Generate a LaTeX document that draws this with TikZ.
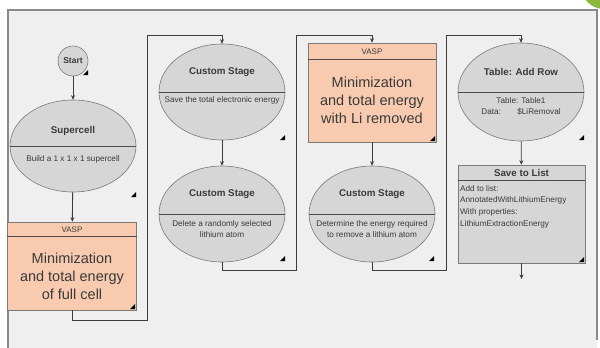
\documentclass[tikz,border=0pt]{standalone}
\usepackage{fontspec}
\setmainfont{Liberation Sans}
\usetikzlibrary{shapes.geometric,arrows.meta}
\definecolor{bgc}{HTML}{EFEFEF}
\definecolor{elc}{HTML}{D6D6D6}
\definecolor{edgec}{HTML}{7A7A7A}
\definecolor{salm}{HTML}{F8CBB0}
\definecolor{connc}{HTML}{3C3C3C}
\definecolor{txt}{HTML}{3A3A3A}
\definecolor{grn}{HTML}{8CB83A}
\definecolor{framec}{HTML}{8A8A8A}
\begin{document}
\begin{tikzpicture}[x=1pt,y=-1pt,
 stage/.style={ellipse,draw=edgec,fill=elc,inner sep=0,minimum width=126pt,minimum height=96pt,line width=0.6pt},
 vbox/.style={rectangle,draw=edgec,fill=salm,inner sep=0,line width=0.6pt},
 gbox/.style={rectangle,draw=edgec,fill=elc,inner sep=0,line width=0.6pt},
 divider/.style={draw=black!70,line width=0.6pt},
 ttl/.style={font=\bfseries\fontsize{9.8}{11}\selectfont,text=txt,inner sep=0},
 desc/.style={font=\fontsize{8.2}{11}\selectfont,text=txt,align=center,inner sep=0},
 ldesc/.style={font=\fontsize{8.2}{11.8}\selectfont,text=txt,align=left,inner sep=0},
 hdr/.style={font=\fontsize{8}{9}\selectfont,text=txt,inner sep=0},
 big/.style={font=\fontsize{14.5}{18}\selectfont,text=txt,align=center,inner sep=0},
 connl/.style={draw=connc,line width=0.9pt},
 arr/.style={connl,-{Stealth[length=4.5pt,width=4pt]}},
 mk/.style={fill=black}
]
\useasboundingbox (0,0) rectangle (600,348);
\fill[white] (0,0) rectangle (600,348);
\fill[bgc] (8,10) rectangle (597,348);
\draw[framec,line width=1.4pt] (8,348) -- (8,10) -- (597,10) -- (597,340);
\begin{scope}
\clip (0,0) rectangle (600,348);
\fill[grn] (604,-14) circle (23);
\end{scope}

% nodes
\node[circle,draw=edgec,fill=elc,inner sep=0,minimum size=30pt,line width=0.6pt] (start) at (73,61) {};
\node[ttl,font=\bfseries\fontsize{8.5}{9}\selectfont] (startt) at (73,61) {Start};

\node[stage,minimum height=92pt] (sup) at (73,146) {};
\draw[divider] (sup.west) -- (sup.east);
\node[ttl] (supt) at (73,131) {Supercell};
\node[desc] (supd) at (73,159) {Build a 1 x 1 x 1 supercell};

\node[vbox,minimum width=129pt,minimum height=88pt] (v1) at (72,266) {};
\draw[divider] ([yshift=-15pt]v1.north west) -- ([yshift=-15pt]v1.north east);
\node[hdr] (v1h) at (72,229.5) {VASP};
\node[big] (v1t) at (72,276) {Minimization\\and total energy\\of full cell};

\node[stage] (cs1) at (222,92) {};
\draw[divider] (cs1.west) -- (cs1.east);
\node[ttl] (cs1t) at (222,72) {Custom Stage};
\node[desc] (cs1d) at (222,100) {Save the total electronic energy};

\node[stage] (cs2) at (222,214) {};
\draw[divider] (cs2.west) -- (cs2.east);
\node[ttl] (cs2t) at (222,194) {Custom Stage};
\node[desc] (cs2d) at (222,229) {Delete a randomly selected\\lithium atom};

\node[vbox,minimum width=128pt,minimum height=99pt] (v2) at (372,92.5) {};
\draw[divider] ([yshift=-17pt]v2.north west) -- ([yshift=-17pt]v2.north east);
\node[hdr] (v2h) at (372,51.5) {VASP};
\node[big] (v2t) at (372,100) {Minimization\\and total energy\\with Li removed};

\node[stage] (cs3) at (372,214) {};
\draw[divider] (cs3.west) -- (cs3.east);
\node[ttl] (cs3t) at (372,194) {Custom Stage};
\node[desc] (cs3d) at (372,229) {Determine the energy required\\to remove a lithium atom};

\node[stage,minimum height=98pt] (tab) at (521,92) {};
\draw[divider] (tab.west) -- (tab.east);
\node[ttl] (tabt) at (521,72) {Table: Add Row};
\node[desc] (tabd) at (521,106) {Table: Table1\\Data:\quad\quad\$LiRemoval};

\node[gbox,minimum width=127pt,minimum height=98pt] (sav) at (521.5,214) {};
\draw[divider] ([yshift=-16pt]sav.north west) -- ([yshift=-16pt]sav.north east);
\node[ttl] (savt) at (521.5,173) {Save to List};
\node[ldesc,anchor=north west] (savd) at (460,185) {Add to list:\\AnnotatedWithLithiumEnergy\\With properties:\\LithiumExtractionEnergy};
\coordinate (end) at (521.5,279);

% connectors
\draw[arr] (start) -- (sup);
\draw[arr] (sup) -- (v1);
\draw[arr] (v1.south) -- ++(0,10) -| (147,35) -| (cs1.north);
\draw[arr] (cs1) -- (cs2);
\draw[arr] (cs2.south) -- ++(0,8) -| (296,35) -| (v2.north);
\draw[arr] (v2) -- (cs3);
\draw[arr] (cs3.south) -- ++(0,8) -| (446,35) -| (tab.north);
\draw[arr] (tab) -- (sav);
\draw[arr] (sav) -- (end);

% corner markers
\foreach \x/\y in {88/75, 136/197, 135/309, 285/140, 285/261, 435/141, 434/261, 584/140, 584/262}
  \fill[mk] (\x,\y) -- ++(-5,0) -- ++(5,-5) -- cycle;
\end{tikzpicture}
\end{document}
